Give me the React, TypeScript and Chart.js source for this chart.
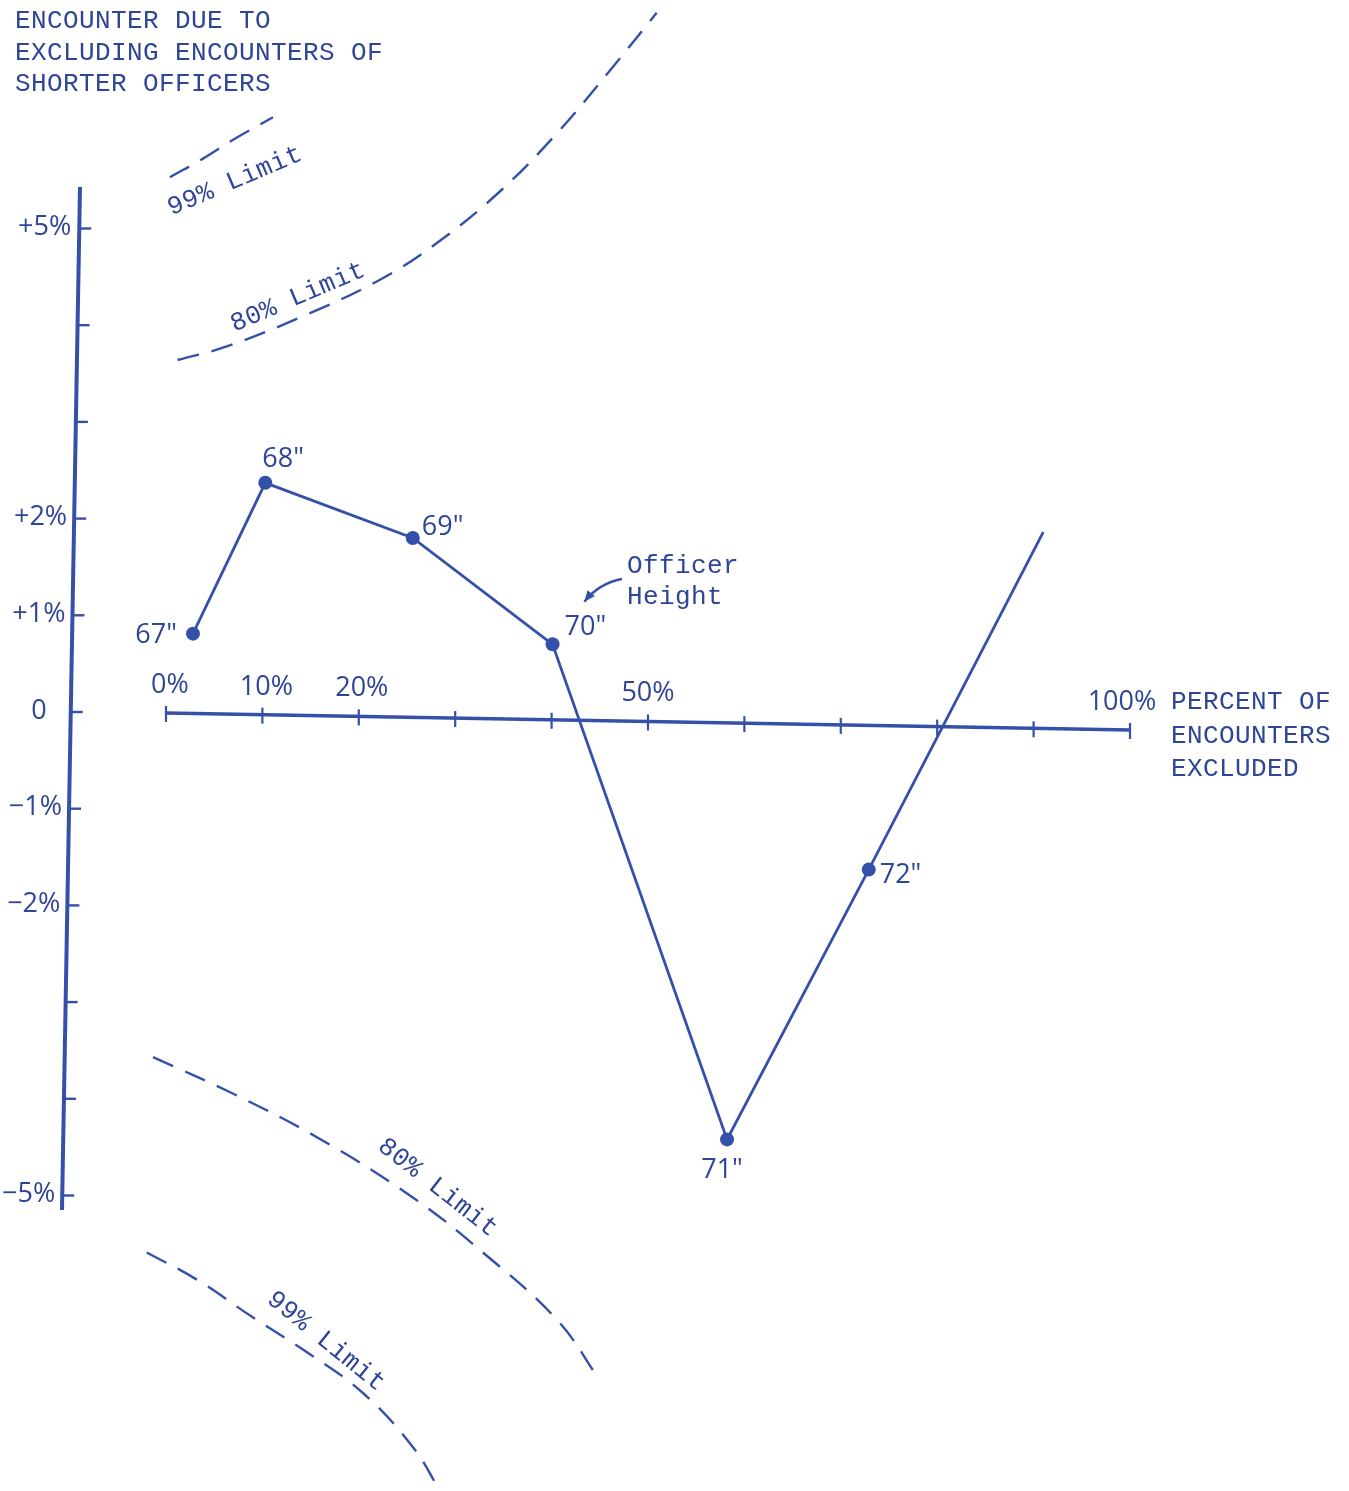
import { useEffect, useRef } from "react";
import { Chart, registerables } from "chart.js";

Chart.register(...registerables);

// ---- data ----
const heights = ['67"', '68"', '69"', '70"', '71"', '72"'];
const pctExcluded = [2.8, 10.3, 25.6, 40.1, 58.2, 72.9, 91.0];
const pctChange = [0.81, 2.37, 1.8, 0.7, -4.42, -1.63, 1.86];

const xTicks = [0, 10, 20, 30, 40, 50, 60, 70, 80, 90, 100];
const xTickLabels = ["0%", "10%", "20%", "", "", "50%", "", "", "", "", "100%"];
const yTicks = [5, 4, 3, 2, 1, 0, -1, -2, -3, -4, -5];
const yTickLabels = ["+5%", "", "", "+2%", "+1%", "0", "\u22121%", "\u22122%", "", "", "\u22125%"];

const upper99X = [0.4, 3.8, 7.0, 11.1];
const upper99Y = [5.53, 5.72, 5.92, 6.15];
const upper80X = [1.2, 6.3, 13.9, 22.2, 28.1, 34.6, 40.6, 46.1, 50.9];
const upper80Y = [3.64, 3.78, 4.08, 4.47, 4.85, 5.38, 5.99, 6.64, 7.23];
const lower80X = [-1.35, 6.6, 15.7, 25.6, 33.0, 40.6, 45.0];
const lower80Y = [-3.57, -3.93, -4.4, -5.02, -5.6, -6.29, -6.91];
const lower99X = [-2.0, 3.2, 9.0, 14.9, 20.4, 25.6, 28.4];
const lower99Y = [-5.59, -5.87, -6.26, -6.64, -7.04, -7.6, -8.05];

const titleLines = ["ENCOUNTER DUE TO", "EXCLUDING ENCOUNTERS OF", "SHORTER OFFICERS"];
const xCaptionLines = ["PERCENT OF", "ENCOUNTERS", "EXCLUDED"];
const limitLabels = ["99% Limit", "80% Limit", "80% Limit", "99% Limit"];

// ---- layout / style ----
const W = 1349;
const H = 1491;
const X_MIN = -17.22;
const X_MAX = 122.72;
const Y_MIN = -8.056;
const Y_MAX = 7.363;

const LINE = "#3550a8";
const TEXT = "#2f4597";
const SANS = '"Open Sans", "DejaVu Sans", sans-serif';
const MONO = '"Liberation Mono", "DejaVu Sans Mono", monospace';

const yAxisTop = [-8.92, 5.43];
const yAxisBottom = [-10.79, -5.15];
const xAxisStart = [0, -0.01];
const xAxisEnd = [100, -0.186];

// [dx, dy, align] relative to the point pixel (baseline alphabetic)
const pointLabelPlace: [number, number, CanvasTextAlign][] = [
  [-16, 9, "right"],
  [-3, -16, "left"],
  [9, -3, "left"],
  [12, -9, "left"],
  [-5, 39, "center"],
  [11, 13, "left"],
];
const xLabelShift = [4, 4, 3, 0, 0, 0, 0, 0, 0, 0, -8];
const yLabelGap = [8, 7, 7, 7, 7, 24, 7, 7, 7, 7, 7];
// label centres in data coords + angle (deg)
const limitLabelPlace = [
  [7.16, 5.49, -23],
  [13.7, 4.29, -23],
  [28.2, -4.92, 38],
  [16.6, -6.51, 39],
];
const arrowPath = [
  [47.3, 1.375],
  [44.9, 1.33],
  [43.4, 1.14],
];

const overlay = {
  id: "overlay",
  beforeDatasetsDraw(chart: any) {
    const { ctx } = chart;
    const xs = chart.scales.x;
    const ys = chart.scales.y;
    const X = (v: number) => xs.getPixelForValue(v);
    const Y = (v: number) => ys.getPixelForValue(v);
    ctx.save();
    ctx.strokeStyle = LINE;
    ctx.fillStyle = TEXT;
    ctx.lineCap = "butt";

    // y axis
    const tx = X(yAxisTop[0]);
    const ty = Y(yAxisTop[1]);
    const bx = X(yAxisBottom[0]);
    const by = Y(yAxisBottom[1]);
    const axisXAt = (py: number) => tx + ((py - ty) * (bx - tx)) / (by - ty);
    ctx.lineWidth = 4;
    ctx.beginPath();
    ctx.moveTo(tx, ty);
    ctx.lineTo(bx, by);
    ctx.stroke();
    ctx.font = `400 27px ${SANS}`;
    ctx.textBaseline = "middle";
    ctx.textAlign = "right";
    yTicks.forEach((v, i) => {
      const py = Y(v);
      const ax = axisXAt(py);
      ctx.lineWidth = 2.4;
      ctx.beginPath();
      ctx.moveTo(ax, py);
      ctx.lineTo(ax + 12, py);
      ctx.stroke();
      if (yTickLabels[i]) ctx.fillText(yTickLabels[i], ax - yLabelGap[i], py - 1);
    });

    // x axis
    const sx = X(xAxisStart[0]);
    const sy = Y(xAxisStart[1]);
    const ex = X(xAxisEnd[0]);
    const ey = Y(xAxisEnd[1]);
    const axisYAt = (px: number) => sy + ((px - sx) * (ey - sy)) / (ex - sx);
    ctx.lineWidth = 3.6;
    ctx.beginPath();
    ctx.moveTo(sx, sy);
    ctx.lineTo(ex, ey);
    ctx.stroke();
    ctx.textAlign = "center";
    ctx.textBaseline = "alphabetic";
    xTicks.forEach((v, i) => {
      const px = X(v);
      const py = axisYAt(px);
      ctx.lineWidth = 2.2;
      ctx.beginPath();
      ctx.moveTo(px, py - 7);
      ctx.lineTo(px, py + 9);
      ctx.stroke();
      if (xTickLabels[i]) ctx.fillText(xTickLabels[i], px + xLabelShift[i], py - 20);
    });

    // arrow to "Officer Height"
    const a0 = arrowPath[0], a1 = arrowPath[1], a2 = arrowPath[2];
    ctx.lineWidth = 2.4;
    ctx.beginPath();
    ctx.moveTo(X(a0[0]), Y(a0[1]));
    ctx.quadraticCurveTo(X(a1[0]), Y(a1[1]), X(a2[0]), Y(a2[1]));
    ctx.stroke();
    const ang = Math.atan2(Y(a2[1]) - Y(a1[1]), X(a2[0]) - X(a1[0]));
    const hx = X(a2[0]);
    const hy = Y(a2[1]);
    ctx.fillStyle = LINE;
    ctx.beginPath();
    ctx.moveTo(hx, hy);
    ctx.lineTo(hx - 12 * Math.cos(ang - 0.4), hy - 12 * Math.sin(ang - 0.4));
    ctx.lineTo(hx - 12 * Math.cos(ang + 0.4), hy - 12 * Math.sin(ang + 0.4));
    ctx.closePath();
    ctx.fill();
    ctx.restore();
  },
  afterDatasetsDraw(chart: any) {
    const { ctx } = chart;
    const xs = chart.scales.x;
    const ys = chart.scales.y;
    const X = (v: number) => xs.getPixelForValue(v);
    const Y = (v: number) => ys.getPixelForValue(v);
    ctx.save();
    ctx.fillStyle = TEXT;

    // point labels
    ctx.font = `400 27px ${SANS}`;
    ctx.textBaseline = "alphabetic";
    heights.forEach((h, i) => {
      const px = X(pctExcluded[i]);
      const py = Y(pctChange[i]);
      const [dx, dy, al] = pointLabelPlace[i];
      ctx.textAlign = al;
      ctx.fillText(h, px + dx, py + dy);
    });

    // typewriter text
    ctx.font = `400 26px ${MONO}`;
    (ctx as any).letterSpacing = "0.4px";
    ctx.textAlign = "left";
    titleLines.forEach((t, i) => ctx.fillText(t, 15, 28 + i * 31.5));
    xCaptionLines.forEach((t, i) => ctx.fillText(t, 1171, 709 + i * 33.5));
    ctx.fillText("Officer", 627, 573);
    ctx.fillText("Height", 627, 604);

    // limit labels
    ctx.textAlign = "center";
    ctx.textBaseline = "middle";
    limitLabels.forEach((t, i) => {
      const [lx, ly, deg] = limitLabelPlace[i];
      ctx.save();
      ctx.translate(X(lx), Y(ly));
      ctx.rotate((deg * Math.PI) / 180);
      ctx.fillText(t, 0, 0);
      ctx.restore();
    });
    ctx.restore();
  },
};

const pts = (xa: number[], ya: number[]) => xa.map((x, i) => ({ x, y: ya[i] }));

const limitDataset = (xa: number[], ya: number[]) => ({
  data: pts(xa, ya),
  showLine: true,
  borderColor: LINE,
  borderWidth: 2.4,
  borderDash: [22, 13],
  pointRadius: 0,
  tension: 0.4,
  fill: false,
});

export default function App() {
  const ref = useRef<HTMLCanvasElement | null>(null);
  useEffect(() => {
    document.body.style.margin = "0";
    document.body.style.overflow = "hidden";
    const canvas = ref.current;
    if (!canvas) return;
    const chart = new Chart(canvas, {
      type: "scatter",
      data: {
        datasets: [
          {
            data: pts(pctExcluded, pctChange),
            showLine: true,
            borderColor: LINE,
            borderWidth: 2.8,
            backgroundColor: LINE,
            pointBackgroundColor: LINE,
            pointBorderColor: LINE,
            pointRadius: (c: any) => (c.dataIndex < heights.length ? 7 : 0),
            pointBorderWidth: 0,
            tension: 0,
          } as any,
          limitDataset(upper99X, upper99Y),
          limitDataset(upper80X, upper80Y),
          limitDataset(lower80X, lower80Y),
          limitDataset(lower99X, lower99Y),
        ],
      },
      options: {
        responsive: false,
        maintainAspectRatio: false,
        animation: false,
        layout: { padding: 0, autoPadding: false },
        plugins: { legend: { display: false }, tooltip: { enabled: false }, title: { display: false } },
        events: [],
        scales: {
          x: { type: "linear", min: X_MIN, max: X_MAX, display: false },
          y: { type: "linear", min: Y_MIN, max: Y_MAX, display: false },
        },
      },
      plugins: [overlay],
    });
    return () => chart.destroy();
  }, []);
  return (
    <div style={{ position: "absolute", left: 0, top: 0, width: W, height: H, background: "#fff" }}>
      <canvas ref={ref} width={W} height={H} style={{ display: "block", width: W, height: H }} />
    </div>
  );
}
